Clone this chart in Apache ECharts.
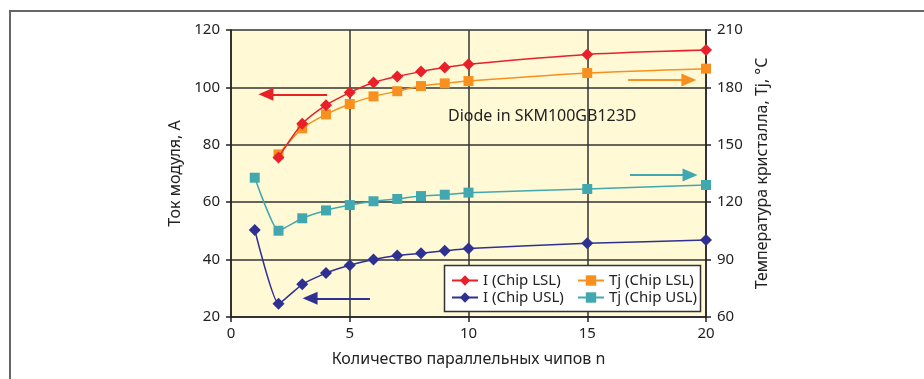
<!DOCTYPE html>
<html><head><meta charset="utf-8">
<script src="https://cdn.jsdelivr.net/npm/echarts@6/dist/echarts.min.js"></script>
<style>html,body{margin:0;padding:0;background:#fff}#c{width:924px;height:379px}</style>
</head><body><div id="c"></div>
<script>
const nLSL = [2,3,4,5,6,7,8,9,10,15,20];
const nUSL = [1,2,3,4,5,6,7,8,9,10,15,20];
const iLSL = [75.6,87.3,93.8,98.2,101.7,103.8,105.5,106.9,108.1,111.5,113.0];
const tjLSL = [145.0,158.6,165.9,171.3,175.3,178.0,180.7,182.1,183.3,187.5,189.8];
const iUSL = [50.3,24.6,31.4,35.3,38.0,40.0,41.4,42.2,43.1,43.9,45.7,46.8];
const tjUSL = [132.8,105.1,111.6,115.7,118.5,120.5,121.7,123.2,123.9,125.0,126.9,129.0];
const seriesNames = ['I (Chip LSL)','Tj (Chip LSL)','I (Chip USL)','Tj (Chip USL)'];
const xTicks = [0,5,10,15,20];
const leftTicks = [20,40,60,80,100,120];
const rightTicks = [60,90,120,150,180,210];

const FONT = 'Noto Sans';
const RED='#e8202a', ORANGE='#f7901e', BLUE='#2e3192', TEAL='#41a8b0';
const pair = (xs, ys) => xs.map((x,i)=>[x, ys[i]]);

function arrow(color, from, to){
  return {silent:true, symbol:['none','triangle'], symbolSize:[13,15], label:{show:false},
    lineStyle:{color:color, width:2, type:'solid'}, itemStyle:{color:color},
    data:[[{coord:from},{coord:to}]]};
}

const chart = echarts.init(document.getElementById('c'), null, {renderer:'canvas'});
chart.setOption({
  animation:false,
  textStyle:{fontFamily:FONT},
  grid:{left:231, right:218, top:30, bottom:62, show:true, backgroundColor:'#fff9d6', borderWidth:0},
  xAxis:{type:'value', min:xTicks[0], max:xTicks[xTicks.length-1], interval:5,
    name:'Количество параллельных чипов n', nameLocation:'middle', nameGap:34,
    nameTextStyle:{fontSize:16, color:'#222', fontFamily:FONT},
    axisLine:{lineStyle:{color:'#222', width:1.5}},
    axisTick:{show:true, length:5, lineStyle:{color:'#222', width:1.5}},
    axisLabel:{fontSize:15, color:'#222', margin:9},
    splitLine:{show:true, lineStyle:{color:'#333', width:1.5}}},
  yAxis:[
    {type:'value', min:leftTicks[0], max:leftTicks[leftTicks.length-1], interval:20, position:'left',
     name:'Ток модуля, А', nameLocation:'middle', nameGap:46, nameRotate:90,
     nameTextStyle:{fontSize:16, color:'#222', fontFamily:FONT},
     axisLine:{show:true, lineStyle:{color:'#222', width:1.5}},
     axisTick:{show:true, length:5, lineStyle:{color:'#222', width:1.5}},
     axisLabel:{fontSize:15, color:'#222', margin:11},
     splitLine:{show:true, lineStyle:{color:'#333', width:1.5}}},
    {type:'value', min:rightTicks[0], max:rightTicks[rightTicks.length-1], interval:30, position:'right',
     name:'Температура кристалла, Tj, °C', nameLocation:'middle', nameGap:48, nameRotate:90,
     nameTextStyle:{fontSize:16, color:'#222', fontFamily:FONT},
     axisLine:{show:true, lineStyle:{color:'#222', width:1.5}},
     axisTick:{show:true, length:5, lineStyle:{color:'#222', width:1.5}},
     axisLabel:{fontSize:15, color:'#222', margin:11},
     splitLine:{show:false}}
  ],
  legend:[
    {orient:'vertical', left:446, top:268, itemWidth:26, itemHeight:13, itemGap:2, z:20,
     data:[seriesNames[0], seriesNames[2]], textStyle:{fontSize:15, color:'#222', fontFamily:FONT}},
    {orient:'vertical', left:572, top:268, itemWidth:26, itemHeight:13, itemGap:2, z:20,
     data:[seriesNames[1], seriesNames[3]], textStyle:{fontSize:15, color:'#222', fontFamily:FONT}}
  ],
  graphic:[
    {type:'line', shape:{x1:9, y1:11, x2:924, y2:11}, style:{stroke:'#666', lineWidth:2}, z:1},
    {type:'line', shape:{x1:10, y1:10, x2:10, y2:379}, style:{stroke:'#666', lineWidth:2}, z:1},
    {type:'rect', shape:{x:444.5, y:265.5, width:256, height:46}, style:{fill:'#fff', stroke:'#333', lineWidth:1.5}, z:10},
    {type:'text', left:448, top:108, z:10, style:{text:'Diode in SKM100GB123D', fontSize:16, fontFamily:FONT, fill:'#222'}}
  ],
  series:[
    {name:seriesNames[0], type:'line', yAxisIndex:0, data:pair(nLSL,iLSL), smooth:0.25,
     symbol:'diamond', symbolSize:12, color:RED, lineStyle:{width:1.5}, z:4,
     markLine:arrow(RED,[4.05,97.6],[1.47,97.6])},
    {name:seriesNames[1], type:'line', yAxisIndex:1, data:pair(nLSL,tjLSL), smooth:0.25,
     symbol:'rect', symbolSize:10, color:ORANGE, lineStyle:{width:1.5}, z:3,
     markLine:arrow(ORANGE,[16.72,183.9],[19.28,183.9])},
    {name:seriesNames[2], type:'line', yAxisIndex:0, data:pair(nUSL,iUSL), smooth:0.15,
     symbol:'diamond', symbolSize:12, color:BLUE, lineStyle:{width:1.5}, z:4,
     markLine:arrow(BLUE,[5.85,26.5],[3.33,26.5])},
    {name:seriesNames[3], type:'line', yAxisIndex:1, data:pair(nUSL,tjUSL), smooth:0.15,
     symbol:'rect', symbolSize:10, color:TEAL, lineStyle:{width:1.5}, z:3,
     markLine:arrow(TEAL,[16.8,134.2],[19.33,134.2])}
  ]
});
</script></body></html>
